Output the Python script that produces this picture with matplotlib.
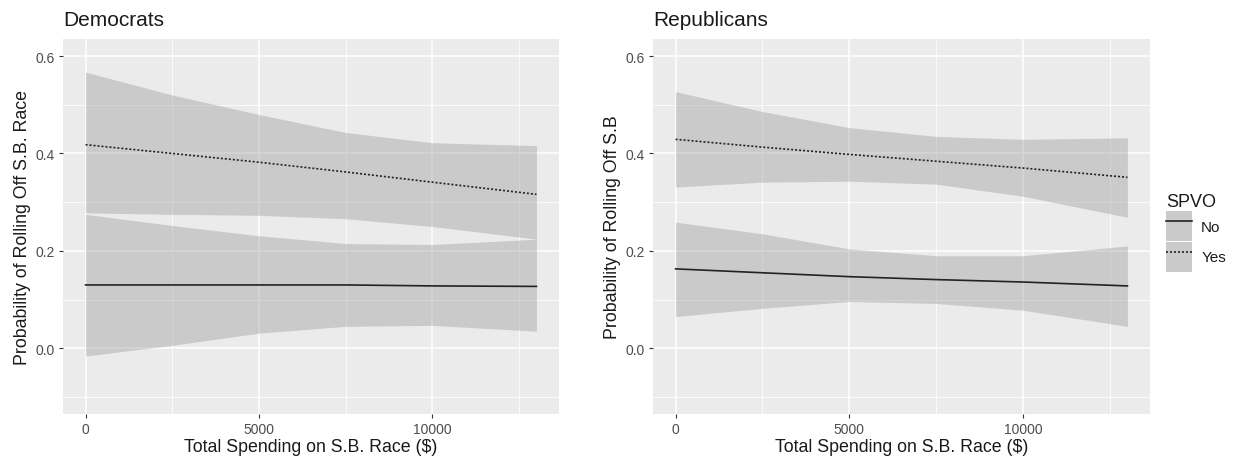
import matplotlib
matplotlib.use("Agg")
import matplotlib.pyplot as plt
from matplotlib.patches import Patch
from matplotlib.lines import Line2D
import numpy as np

plt.rcParams['font.family'] = ['Liberation Sans', 'DejaVu Sans']

spending = [0, 2500, 5000, 7500, 10000, 13000]

# Democrats
dem_no = [0.130, 0.130, 0.130, 0.130, 0.128, 0.127]
dem_no_lo = [-0.016, 0.006, 0.031, 0.045, 0.047, 0.035]
dem_no_hi = [0.275, 0.252, 0.231, 0.215, 0.213, 0.224]
dem_yes = [0.418, 0.400, 0.382, 0.362, 0.341, 0.316]
dem_yes_lo = [0.278, 0.275, 0.273, 0.266, 0.250, 0.224]
dem_yes_hi = [0.567, 0.520, 0.480, 0.443, 0.422, 0.416]

# Republicans
rep_no = [0.163, 0.155, 0.147, 0.141, 0.136, 0.128]
rep_no_lo = [0.065, 0.082, 0.096, 0.092, 0.078, 0.045]
rep_no_hi = [0.259, 0.235, 0.204, 0.190, 0.190, 0.210]
rep_yes = [0.429, 0.413, 0.398, 0.384, 0.370, 0.351]
rep_yes_lo = [0.331, 0.341, 0.343, 0.337, 0.312, 0.269]
rep_yes_hi = [0.527, 0.486, 0.453, 0.435, 0.429, 0.432]

x_ticks = [0, 5000, 10000]
y_ticks = [0.0, 0.2, 0.4, 0.6]
y_ticklabels = ["0.0", "0.2", "0.4", "0.6"]

W, H = 1236, 464
fig = plt.figure(figsize=(W / 100, H / 100), dpi=100)

BG = "#EBEBEB"
BAND = "#999999"
ALPHA = 0.4
LINE = "#222222"
TXT = "#1a1a1a"


def px_axes(x0, x1, ytop, ybot):
    return fig.add_axes([x0 / W, (H - ybot) / H, (x1 - x0) / W, (ybot - ytop) / H])


def style(ax, title, ylabel):
    ax.set_facecolor(BG)
    ax.set_xlim(-650, 13650)
    ax.set_ylim(-0.135, 0.635)
    ax.set_xticks(x_ticks)
    ax.set_xticklabels([str(t) for t in x_ticks])
    ax.set_xticks([2500, 7500, 12500], minor=True)
    ax.set_yticks(y_ticks)
    ax.set_yticklabels(y_ticklabels)
    ax.set_yticks([-0.1, 0.1, 0.3, 0.5], minor=True)
    ax.grid(which="major", color="white", linewidth=1.1, zorder=0)
    ax.grid(which="minor", color="white", linewidth=0.55, zorder=0)
    ax.set_axisbelow(True)
    for s in ax.spines.values():
        s.set_visible(False)
    ax.tick_params(which="major", length=3, width=0.8, color="#333333",
                   labelsize=10, labelcolor="#4D4D4D", pad=3)
    ax.tick_params(which="minor", length=0)
    ax.set_title(title, loc="left", fontsize=15, color=TXT, pad=10)
    ax.set_xlabel("Total Spending on S.B. Race ($)", fontsize=12.8, color=TXT, labelpad=1)
    ax.set_ylabel(ylabel, fontsize=12.8, color=TXT, labelpad=3)


def draw(ax, no, no_lo, no_hi, yes, yes_lo, yes_hi):
    ax.fill_between(spending, no_lo, no_hi, color=BAND, alpha=ALPHA, linewidth=0, zorder=2)
    ax.fill_between(spending, yes_lo, yes_hi, color=BAND, alpha=ALPHA, linewidth=0, zorder=2)
    ax.plot(spending, no, color=LINE, linewidth=1.2, linestyle="-", zorder=3)
    ax.plot(spending, yes, color=LINE, linewidth=1.2, linestyle=(0, (1.2, 1.2)), zorder=3)


ax1 = px_axes(63, 559, 40, 415)
style(ax1, "Democrats", "Probability of Rolling Off S.B. Race")
draw(ax1, dem_no, dem_no_lo, dem_no_hi, dem_yes, dem_yes_lo, dem_yes_hi)

ax2 = px_axes(653, 1150, 40, 415)
style(ax2, "Republicans", "Probability of Rolling Off S.B")
draw(ax2, rep_no, rep_no_lo, rep_no_hi, rep_yes, rep_yes_lo, rep_yes_hi)

h_no = (Patch(facecolor="#CACACA", edgecolor="none"),
        Line2D([], [], color=LINE, linewidth=1.2))
h_yes = (Patch(facecolor="#CACACA", edgecolor="none"),
         Line2D([], [], color=LINE, linewidth=1.2, linestyle=(0, (1.2, 1.2))))
leg = fig.legend([h_no, h_yes], ["No", "Yes"], title="SPVO",
                 loc="upper left", bbox_to_anchor=(1163 / W, 1 - 191 / H),
                 frameon=False, fontsize=11, title_fontsize=13,
                 handlelength=1.7, handleheight=2.6, labelspacing=0.08,
                 handletextpad=0.6, borderaxespad=0, borderpad=0.2)
leg._legend_box.align = "left"
leg.get_title().set_color(TXT)
for t in leg.get_texts():
    t.set_color(TXT)

fig.savefig("out.png", dpi=100)
